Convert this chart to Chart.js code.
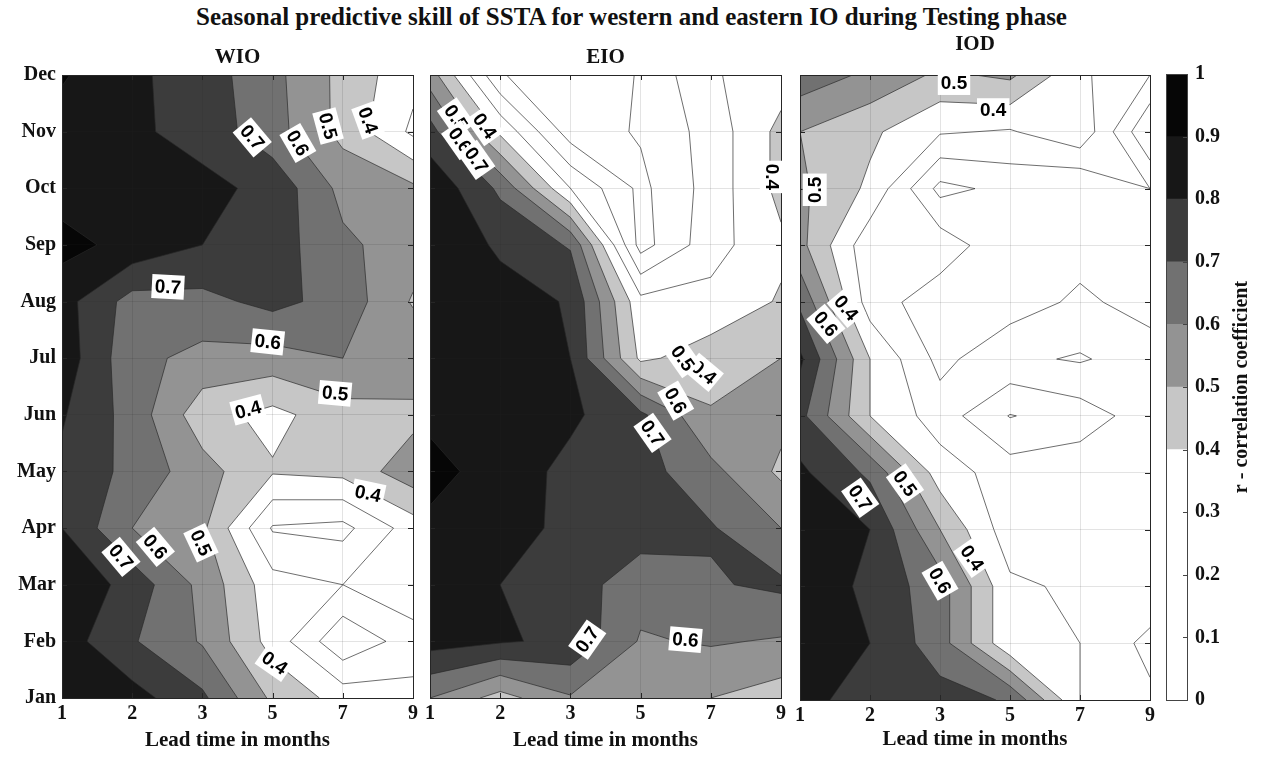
<!DOCTYPE html>
<html>
<head>
<meta charset="utf-8">
<script src="https://cdn.jsdelivr.net/npm/chart.js@4.4.1/dist/chart.umd.min.js"></script>
<style>
  html, body { margin: 0; padding: 0; background: #ffffff; }
  body { width: 1263px; height: 758px; position: relative; overflow: hidden; }
  canvas { position: absolute; left: 0; top: 0; }
  #title {
    position: absolute; left: 0; top: 3px; width: 1263px; text-align: center;
    font: bold 25px "Liberation Serif", "Times New Roman", serif; color: #111;
  }
</style>
</head>
<body>
<div id="title">Seasonal predictive skill of SSTA for western and eastern IO during Testing phase</div>
<canvas id="wio" width="1263" height="758"></canvas>
<canvas id="eio" width="1263" height="758"></canvas>
<canvas id="iod" width="1263" height="758"></canvas>
<canvas id="cbar" width="1263" height="758"></canvas>
<script>
// ---- data -------------------------------------------------------------
const months = ['Jan','Feb','Mar','Apr','May','Jun','Jul','Aug','Sep','Oct','Nov','Dec'];
const leadTimes = [1, 2, 3, 5, 7, 9];
const levels = [0, 0.1, 0.2, 0.3, 0.4, 0.5, 0.6, 0.7, 0.8, 0.9];
const cbarTicks = [0, 0.1, 0.2, 0.3, 0.4, 0.5, 0.6, 0.7, 0.8, 0.9, 1];

// correlation r, one row per target month (Jan..Dec), one column per lead time
const wio = [
  [0.90, 0.84, 0.72, 0.48, 0.36, 0.33],
  [0.85, 0.71, 0.59, 0.36, 0.12, 0.25],
  [0.89, 0.76, 0.57, 0.34, 0.30, 0.38],
  [0.80, 0.60, 0.52, 0.19, 0.17, 0.35],
  [0.78, 0.67, 0.54, 0.41, 0.43, 0.56],
  [0.81, 0.66, 0.44, 0.37, 0.46, 0.47],
  [0.86, 0.63, 0.57, 0.56, 0.60, 0.58],
  [0.84, 0.66, 0.67, 0.73, 0.66, 0.49],
  [0.93, 0.87, 0.80, 0.75, 0.62, 0.55],
  [0.86, 0.86, 0.83, 0.77, 0.57, 0.52],
  [0.86, 0.82, 0.76, 0.64, 0.47, 0.28],
  [0.91, 0.82, 0.75, 0.63, 0.47, 0.33]
];
const eio = [
  [0.60, 0.46, 0.59, 0.55, 0.50, 0.45],
  [0.84, 0.81, 0.78, 0.59, 0.61, 0.59],
  [0.86, 0.80, 0.75, 0.64, 0.69, 0.72],
  [0.88, 0.85, 0.77, 0.75, 0.71, 0.60],
  [0.93, 0.86, 0.77, 0.74, 0.63, 0.48],
  [0.88, 0.86, 0.82, 0.72, 0.51, 0.53],
  [0.88, 0.86, 0.80, 0.38, 0.45, 0.50],
  [0.88, 0.85, 0.79, 0.33, 0.33, 0.41],
  [0.90, 0.78, 0.69, 0.06, 0.26, 0.38],
  [0.88, 0.68, 0.30, 0.075, 0.24, 0.43],
  [0.74, 0.38, 0.05, 0.11, 0.24, 0.43],
  [0.55, 0.11, 0.00, 0.11, 0.29, 0.35]
];
const iod = [
  [0.83, 0.76, 0.74, 0.69, 0.30, 0.22],
  [0.85, 0.80, 0.645, 0.32, 0.30, 0.17],
  [0.89, 0.77, 0.645, 0.32, 0.28, 0.28],
  [0.87, 0.80, 0.50, 0.24, 0.28, 0.25],
  [0.82, 0.68, 0.35, 0.25, 0.26, 0.28],
  [0.73, 0.40, 0.25, 0.095, 0.15, 0.25],
  [0.82, 0.40, 0.17, 0.28, 0.31, 0.25],
  [0.68, 0.25, 0.14, 0.15, 0.22, 0.16],
  [0.53, 0.23, 0.26, 0.12, 0.16, 0.15],
  [0.52, 0.38, 0.07, 0.13, 0.10, 0.20],
  [0.50, 0.42, 0.31, 0.29, 0.38, 0.00],
  [0.66, 0.58, 0.48, 0.52, 0.32, 0.20]
];

// contour labels: [level, lead index, month index, rotation in degrees]
const wioLabels = [
  [0.7, 2.71, 9.9, 50], [0.6, 3.36, 9.8, 60], [0.5, 3.79, 10.1, 75], [0.4, 4.36, 10.2, 70],
  [0.7, 1.51, 7.26, 3], [0.6, 2.93, 6.29, 6], [0.5, 3.89, 5.38, 5],
  [0.4, 2.65, 5.09, -15], [0.4, 4.36, 3.61, 12],
  [0.7, 0.84, 2.49, 50], [0.6, 1.33, 2.67, 50], [0.5, 1.98, 2.74, 65], [0.4, 3.03, 0.62, 35]
];
const eioLabels = [
  [0.5, 0.37, 10.25, 55], [0.4, 0.78, 10.1, 55], [0.6, 0.43, 9.85, 55], [0.7, 0.66, 9.5, 55],
  [0.4, 4.87, 9.2, 90],
  [0.4, 3.9, 5.75, 40], [0.5, 3.6, 6.0, 55], [0.6, 3.5, 5.25, 60], [0.7, 3.17, 4.68, 55],
  [0.7, 2.24, 1.03, -55], [0.6, 3.64, 1.03, 5]
];
const iodLabels = [
  [0.5, 2.2, 10.86, 0], [0.4, 2.76, 10.38, 0],
  [0.5, 0.21, 8.98, -90], [0.4, 0.66, 6.9, 50], [0.6, 0.37, 6.62, 50],
  [0.7, 0.86, 3.56, 55], [0.5, 1.5, 3.81, 55], [0.6, 2.0, 2.1, 60], [0.4, 2.46, 2.5, 55]
];

// ---- drawing helpers ----------------------------------------------------
const fillColors = ['#c6c6c6', '#939393', '#717171', '#3c3c3c', '#171717', '#060606'];
const fillLevels = [0.4, 0.5, 0.6, 0.7, 0.8, 0.9];
const lineColor = 'rgba(40,40,40,0.85)';

// keep the part of a polygon (vertices carry values) where v >= level
function clipAbove(poly, level) {
  const out = [];
  for (let i = 0; i < poly.length; i++) {
    const a = poly[i], b = poly[(i + 1) % poly.length];
    const ia = a.v >= level, ib = b.v >= level;
    if (ia) out.push(a);
    if (ia !== ib) {
      const t = (level - a.v) / (b.v - a.v);
      out.push({ x: a.x + t * (b.x - a.x), y: a.y + t * (b.y - a.y), v: level });
    }
  }
  return out;
}

function cellCorners(grid, r, c) {
  return [
    { x: c, y: r, v: grid[r][c] },
    { x: c + 1, y: r, v: grid[r][c + 1] },
    { x: c + 1, y: r + 1, v: grid[r + 1][c + 1] },
    { x: c, y: r + 1, v: grid[r + 1][c] }
  ];
}

function isoSegments(grid, level) {
  const segs = [];
  for (let r = 0; r < grid.length - 1; r++) {
    for (let c = 0; c < grid[0].length - 1; c++) {
      const p = cellCorners(grid, r, c);
      const pts = [];
      for (let i = 0; i < 4; i++) {
        const a = p[i], b = p[(i + 1) % 4];
        if ((a.v >= level) !== (b.v >= level)) {
          const t = (level - a.v) / (b.v - a.v);
          pts.push({ x: a.x + t * (b.x - a.x), y: a.y + t * (b.y - a.y) });
        }
      }
      if (pts.length === 2) segs.push([pts[0], pts[1]]);
      else if (pts.length === 4) {
        const centre = (p[0].v + p[1].v + p[2].v + p[3].v) / 4;
        if ((centre >= level) === (p[0].v >= level)) {
          segs.push([pts[0], pts[3]]); segs.push([pts[1], pts[2]]);
        } else {
          segs.push([pts[0], pts[1]]); segs.push([pts[2], pts[3]]);
        }
      }
    }
  }
  return segs;
}

const contourPlugin = {
  id: 'contourField',
  beforeDatasetsDraw(chart, args, opts) {
    const grid = opts.grid;
    if (!grid) return;
    const xs = chart.scales.x, ys = chart.scales.y, ctx = chart.ctx;
    const px = p => xs.getPixelForValue(p.x), py = p => ys.getPixelForValue(p.y);
    ctx.save();
    ctx.beginPath();
    ctx.rect(chart.chartArea.left, chart.chartArea.top,
             chart.chartArea.right - chart.chartArea.left, chart.chartArea.bottom - chart.chartArea.top);
    ctx.clip();
    // filled bands, painted from the lowest level upward
    fillLevels.forEach((lv, k) => {
      ctx.beginPath();
      for (let r = 0; r < grid.length - 1; r++) {
        for (let c = 0; c < grid[0].length - 1; c++) {
          const poly = clipAbove(cellCorners(grid, r, c), lv);
          if (poly.length < 3) continue;
          ctx.moveTo(px(poly[0]), py(poly[0]));
          for (let i = 1; i < poly.length; i++) ctx.lineTo(px(poly[i]), py(poly[i]));
          ctx.closePath();
        }
      }
      ctx.fillStyle = fillColors[k];
      ctx.fill('nonzero');
    });
    // iso-lines at every level
    ctx.strokeStyle = lineColor;
    ctx.lineWidth = 0.8;
    levels.forEach(lv => {
      ctx.beginPath();
      isoSegments(grid, lv).forEach(s => {
        ctx.moveTo(px(s[0]), py(s[0]));
        ctx.lineTo(px(s[1]), py(s[1]));
      });
      ctx.stroke();
    });
    ctx.restore();
  },
  afterDraw(chart, args, opts) {
    const xs = chart.scales.x, ys = chart.scales.y, ctx = chart.ctx;
    const a = chart.chartArea;
    ctx.save();
    // frame and inward tick marks
    ctx.strokeStyle = '#262626';
    ctx.lineWidth = 1;
    ctx.strokeRect(Math.round(a.left) + 0.5, Math.round(a.top) + 0.5,
                   Math.round(a.right - a.left), Math.round(a.bottom - a.top));
    ctx.beginPath();
    for (let i = 0; i < leadTimes.length; i++) {
      const x = Math.round(xs.getPixelForValue(i)) + 0.5;
      ctx.moveTo(x, a.bottom); ctx.lineTo(x, a.bottom - 5);
      ctx.moveTo(x, a.top); ctx.lineTo(x, a.top + 5);
    }
    for (let j = 0; j < months.length; j++) {
      const y = Math.round(ys.getPixelForValue(j)) + 0.5;
      ctx.moveTo(a.left, y); ctx.lineTo(a.left + 5, y);
      ctx.moveTo(a.right, y); ctx.lineTo(a.right - 5, y);
    }
    ctx.stroke();
    // panel heading
    ctx.fillStyle = '#111';
    ctx.font = 'bold 21px "Liberation Serif", serif';
    ctx.textAlign = 'center';
    ctx.textBaseline = 'middle';
    ctx.fillText(opts.heading, (a.left + a.right) / 2, a.top + opts.headingDy);
    // inline contour labels
    ctx.font = 'bold 19px "Liberation Sans", Arial, sans-serif';
    (opts.labels || []).forEach(([lv, cx, cy, rot]) => {
      const txt = lv.toFixed(1);
      const x = xs.getPixelForValue(cx), y = ys.getPixelForValue(cy);
      const w = ctx.measureText(txt).width + 6, h = 24;
      ctx.save();
      ctx.translate(x, y);
      ctx.rotate(rot * Math.PI / 180);
      ctx.fillStyle = '#ffffff';
      ctx.fillRect(-w / 2, -h / 2, w, h);
      ctx.fillStyle = '#000000';
      ctx.fillText(txt, 0, 1);
      ctx.restore();
    });
    ctx.restore();
  }
};

function panel(id, grid, labels, area, heading, headingDy, showMonths, titleY) {
  const tickFont = { family: '"Liberation Serif", serif', size: 20, weight: 'bold' };
  new Chart(document.getElementById(id), {
    type: 'scatter',
    data: { datasets: [{ data: [], showLine: false }] },
    plugins: [contourPlugin],
    options: {
      responsive: false,
      animation: false,
      events: [],
      layout: { padding: { left: area.left - 50, right: 1263 - area.right, top: area.top, bottom: 758 - area.bottom - 60 } },
      plugins: {
        legend: { display: false },
        tooltip: { enabled: false },
        contourField: { grid: grid, labels: labels, heading: heading, headingDy: headingDy }
      },
      scales: {
        x: {
          type: 'linear', min: 0, max: leadTimes.length - 1,
          afterBuildTicks: s => { s.ticks = leadTimes.map((_, i) => ({ value: i })); },
          afterFit: s => { s.height = 60; },
          ticks: { callback: v => leadTimes[v], color: '#111', font: tickFont, padding: 4, maxRotation: 0 },
          grid: { color: 'rgba(38,38,38,0.13)', z: 1, drawTicks: false },
          border: { display: false },
          title: { display: true, text: 'Lead time in months', color: '#111',
                   font: { family: '"Liberation Serif", serif', size: 21, weight: 'bold' },
                   padding: { top: 0, bottom: titleY } }
        },
        y: {
          type: 'linear', min: 0, max: months.length - 1,
          afterBuildTicks: s => { s.ticks = months.map((_, i) => ({ value: i })); },
          afterFit: s => { s.width = 50; },
          ticks: { display: showMonths, callback: v => months[v], color: '#111', font: tickFont, padding: 6 },
          grid: { color: 'rgba(38,38,38,0.13)', z: 1, drawTicks: false },
          border: { display: false }
        }
      }
    }
  });
}

panel('wio', wio, wioLabels, { left: 62, right: 413, top: 75, bottom: 698 }, 'WIO', -17, true, 5);
panel('eio', eio, eioLabels, { left: 430, right: 781, top: 75, bottom: 698 }, 'EIO', -17, false, 5);
panel('iod', iod, iodLabels, { left: 800, right: 1150, top: 75, bottom: 700 }, 'IOD', -30, false, 8);

// ---- colour bar -------------------------------------------------------------
const cbarColors = ['#ffffff', '#ffffff', '#ffffff', '#ffffff', '#c6c6c6', '#939393', '#717171', '#3c3c3c', '#171717', '#060606'];
const cbarTitle = 'r - correlation coefficient';
const cbarFramePlugin = {
  id: 'cbarFrame',
  afterDraw(chart) {
    const a = chart.chartArea, ys = chart.scales.y, ctx = chart.ctx;
    ctx.save();
    ctx.strokeStyle = '#444';
    ctx.lineWidth = 1;
    ctx.strokeRect(Math.round(a.left) + 0.5, Math.round(a.top) + 0.5,
                   Math.round(a.right - a.left), Math.round(a.bottom - a.top));
    ctx.beginPath();
    cbarTicks.forEach(t => {
      const y = Math.round(ys.getPixelForValue(t)) + 0.5;
      ctx.moveTo(a.right, y); ctx.lineTo(a.right - 4, y);
    });
    ctx.stroke();
    // axis caption, reading bottom to top
    ctx.translate(1242, (a.top + a.bottom) / 2);
    ctx.rotate(-Math.PI / 2);
    ctx.fillStyle = '#111';
    ctx.font = 'bold 20px "Liberation Serif", serif';
    ctx.textAlign = 'center';
    ctx.textBaseline = 'middle';
    ctx.fillText(cbarTitle, 0, 0);
    ctx.restore();
  }
};
new Chart(document.getElementById('cbar'), {
  type: 'bar',
  data: {
    labels: [''],
    datasets: cbarColors.map(col => ({ data: [0.1], backgroundColor: col, borderWidth: 0 }))
  },
  plugins: [cbarFramePlugin],
  options: {
    responsive: false,
    animation: false,
    events: [],
    layout: { padding: { left: 1166, right: 0, top: 74, bottom: 758 - 700 } },
    plugins: { legend: { display: false }, tooltip: { enabled: false } },
    datasets: { bar: { barPercentage: 1, categoryPercentage: 1 } },
    scales: {
      x: { stacked: true, display: false },
      y: {
        stacked: true, position: 'right', min: 0, max: 1,
        afterBuildTicks: s => { s.ticks = cbarTicks.map(v => ({ value: v })); },
        afterFit: s => { s.width = 1263 - 1187; },
        grid: { display: false, drawTicks: false },
        border: { display: false },
        ticks: { callback: v => String(Math.round(v * 10) / 10), color: '#111',
                 font: { family: '"Liberation Serif", serif', size: 20, weight: 'bold' }, padding: 8 }
      }
    }
  }
});
</script>
</body>
</html>
